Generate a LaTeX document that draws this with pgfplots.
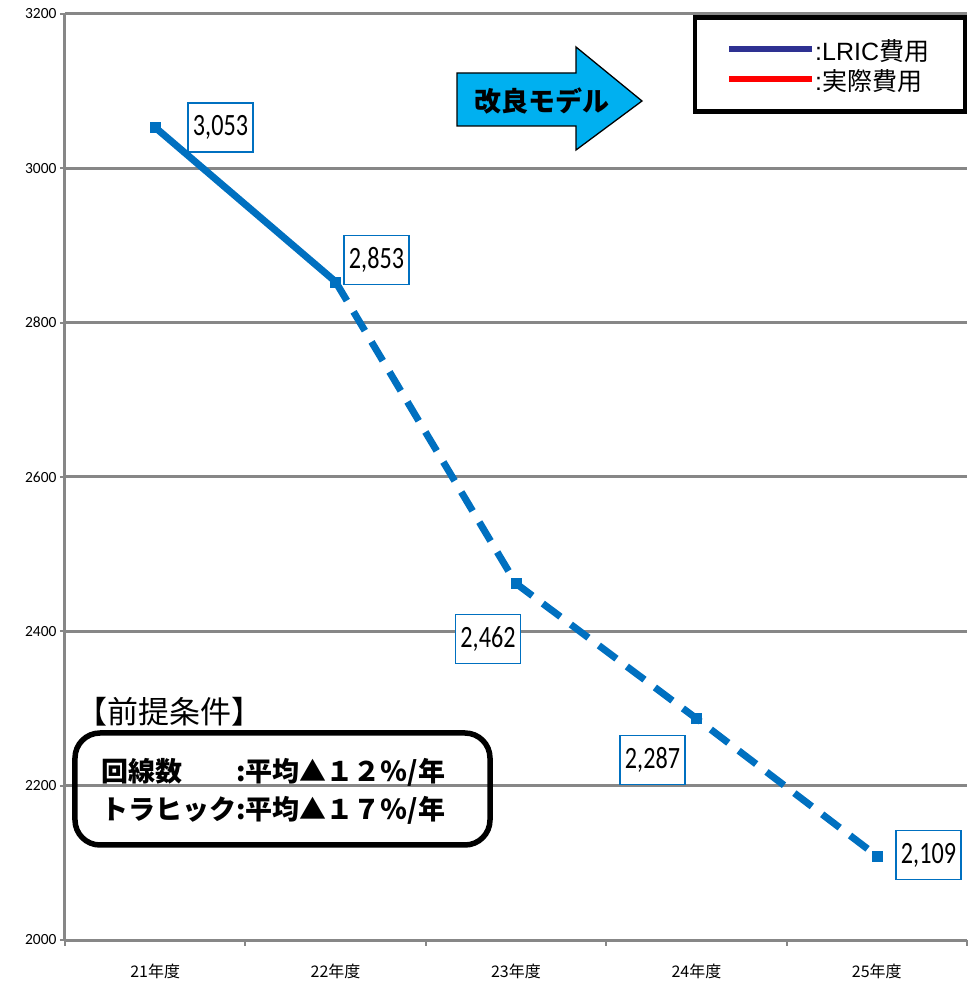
\documentclass[border=0pt]{standalone}
\usepackage{pgfplots}
\pgfplotsset{compat=1.18}
\usepackage{fontspec}
\setmainfont{Carlito}
\newfontfamily\jp{Noto Sans CJK JP}
\newfontfamily\ar{Liberation Sans}
\definecolor{lineblue}{HTML}{0070C0}
\definecolor{legnavy}{HTML}{2E3192}
\definecolor{arrowblue}{HTML}{00B0F0}
\definecolor{gridgray}{HTML}{878787}
\begin{document}
\begin{tikzpicture}
\begin{axis}[
  scale only axis, width=902pt, height=926pt,
  xmin=0.5, xmax=5.5, ymin=2000, ymax=3200,
  axis lines*=left,
  axis line style={gridgray, line width=3pt},
  ytick={2000,2200,2400,2600,2800,3000,3200},
  /pgf/number format/assume math mode=true,
  /pgf/number format/1000 sep={},
  ymajorgrids, major grid style={gridgray, line width=3pt},
  xtick={1,2,3,4,5},
  xticklabels={21年度,22年度,23年度,24年度,25年度},
  minor xtick={0.5,1.5,2.5,3.5,4.5,5.5},
  tick align=outside,
  major tick length=5pt,
  minor tick length=6pt,
  every major x tick/.append style={draw=none},
  tick style={gridgray, line width=2pt},
  yticklabel style={font=\fontsize{15.5}{15.5}\selectfont, black},
  xticklabel style={font=\jp\fontsize{16}{16}\selectfont, black, anchor=center, yshift=-26pt},
  clip=false,
  legend style={at={(rel axis cs:0.6962,0.9989)}, anchor=north west, draw=black, line width=4.5pt,
    inner xsep=34pt, inner ysep=17pt, font=\ar\fontsize{25}{25}\selectfont,
    nodes={text height=24pt, text depth=2pt, inner sep=2pt},
    /tikz/every odd column/.append style={column sep=0pt}},
  legend cell align=left,
  legend image code/.code={\draw[#1, overlay] (0pt,0pt) -- (83pt,0pt); \path[draw=none] (0pt,0pt) rectangle (84pt,6pt);},
]
\addplot[forget plot, lineblue, line width=7pt, mark=square*, mark size=5pt, mark options={solid, line width=0.5pt}]
  coordinates {(1,3053) (2,2853)};
\addplot[forget plot, lineblue, line width=7pt, dash pattern=on 22pt off 13pt, mark=square*, mark size=5pt, mark options={solid, line width=0.5pt}]
  coordinates {(2,2853) (3,2462) (4,2287) (5,2109)};
\addlegendimage{legnavy, line width=6pt}
\addlegendentry{:LRIC{\jp 費用}}
\addlegendimage{red, line width=6pt}
\addlegendentry{:{\jp 実際費用}}
\end{axis}
\begin{scope}[xshift=-65pt, yshift=940pt, x=1pt, y=-1pt]
  % arrow
  \draw[black, line width=1.3pt, fill=arrowblue] (457,73) -- (576,73) -- (576,47) -- (642,101) -- (576,150) -- (576,126) -- (457,126) -- cycle;
  \node[font=\jp\bfseries\fontsize{27}{27}\selectfont] at (542,101) {改良モデル};
  % data labels
  \foreach \cx/\cy/\t in {220.5/127.5/{3,053}, 376.5/260/{2,853}, 488/639/{2,462}, 652.5/760/{2,287}, 928.5/855/{2,109}} {
    \node[draw=lineblue, line width=1.5pt, fill=white, minimum width=65pt, minimum height=49pt, inner sep=0pt,
      font=\fontsize{31}{31}\selectfont] at (\cx,\cy) {\scalebox{0.78}[1]{\t}};
  }
  % conditions
  \node[anchor=west, font=\jp\fontsize{31}{31}\selectfont, inner sep=0pt] at (76,712) {【前提条件】};
  \draw[black, line width=5.5pt, rounded corners=25pt] (75,733) rectangle (490,845);
  \node[anchor=west, font=\jp\bfseries\fontsize{27}{27}\selectfont, inner sep=0pt] at (101,772) {\makebox[5em][l]{回線数}:平均▲１２％/年};
  \node[anchor=west, font=\jp\bfseries\fontsize{27}{27}\selectfont, inner sep=0pt] at (101,810) {\makebox[5em][l]{トラヒック}:平均▲１７％/年};
  \path (0,0) rectangle (970,986);
\end{scope}
\end{tikzpicture}
\end{document}
